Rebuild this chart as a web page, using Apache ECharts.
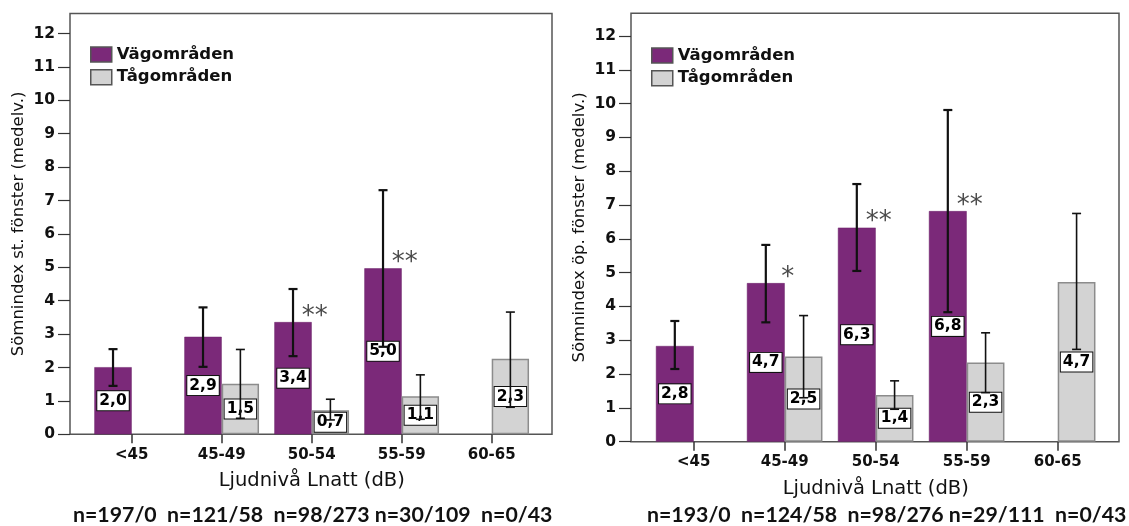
<!DOCTYPE html>
<html>
<head>
<meta charset="utf-8">
<script src="https://cdn.jsdelivr.net/npm/echarts@6/dist/echarts.min.js"></script>
<style>
html,body{margin:0;padding:0;background:#fff;}
#main{width:1129px;height:526px;}
</style>
</head>
<body>
<div id="main"></div>
<script>
// ---------- data ----------
const categories = ['<45', '45-49', '50-54', '55-59', '60-65'];
const yTicks = [0, 1, 2, 3, 4, 5, 6, 7, 8, 9, 10, 11, 12];
const seriesNames = ['Vägområden', 'Tågområden'];

// Left panel: stängt fönster
const vagSt = [2.01, 2.92, 3.36, 4.97, null];
const tagSt = [null, 1.51, 0.72, 1.14, 2.26];
const vagStErr = [[1.45, 2.55], [2.02, 3.80], [2.34, 4.35], [2.62, 7.31], null];
const tagStErr = [null, [0.48, 2.54], [0.43, 1.05], [0.45, 1.78], [0.81, 3.66]];
const sigSt = ['', '', '**', '**', ''];
const yNameSt = 'Sömnindex st. fönster (medelv.)';
const nTextSt = 'n=197/0  n=121/58  n=98/273 n=30/109  n=0/43';

// Right panel: öppet fönster
const vagOp = [2.83, 4.69, 6.33, 6.82, null];
const tagOp = [null, 2.52, 1.38, 2.34, 4.72];
const vagOpErr = [[2.15, 3.57], [3.53, 5.82], [5.05, 7.62], [3.83, 9.81], null];
const tagOpErr = [null, [1.30, 3.73], [0.96, 1.80], [1.45, 3.22], [2.73, 6.75]];
const sigOp = ['', '*', '**', '**', ''];
const yNameOp = 'Sömnindex öp. fönster (medelv.)';
const nTextOp = 'n=193/0  n=124/58  n=98/276 n=29/111  n=0/43';

const xName = 'Ljudnivå Lnatt (dB)';

// ---------- styles ----------
const PURPLE = '#7B2979';
const GRAY = '#D3D3D3';
const FONT = 'DejaVu Sans';
const BAR_FRAC = 0.415;

function fmt(v) { return v.toFixed(1).replace('.', ','); }

const chart = echarts.init(document.getElementById('main'), null, { renderer: 'canvas' });

const grids = [];
const xAxes = [];
const yAxes = [];
const series = [];
const legends = [];
const titles = [];

function addPanel(cfg) {
  const frameIdx = grids.length;
  grids.push({ left: cfg.frame.left, top: cfg.frame.top, width: cfg.frame.width, height: cfg.frame.height,
    show: true, borderColor: '#555', borderWidth: 1.5, backgroundColor: 'transparent', z: 0 });
  const mainIdx = grids.length;
  grids.push({ left: cfg.band.left, top: cfg.frame.top, width: cfg.band.width, height: cfg.frame.height });

  // hidden axes for frame grid
  xAxes.push({ gridIndex: frameIdx, type: 'value', show: false });
  yAxes.push({ gridIndex: frameIdx, type: 'value', show: false });

  const xi = xAxes.length;
  xAxes.push({
    gridIndex: mainIdx, type: 'category', data: categories, boundaryGap: true,
    axisLine: { show: false },
    axisTick: { show: true, alignWithLabel: true, length: 9, lineStyle: { color: '#333', width: 1.5 } },
    axisLabel: { margin: 13, fontFamily: FONT, fontWeight: 'bold', fontSize: 15, color: '#111' },
    name: xName, nameLocation: 'middle', nameGap: 37,
    nameTextStyle: { fontFamily: FONT, fontSize: 19.5, color: '#111' },
    splitLine: { show: false }
  });
  const yi = yAxes.length;
  yAxes.push({
    gridIndex: mainIdx, type: 'value', min: 0, max: cfg.yMax, interval: 1,
    offset: cfg.band.left - cfg.frame.left,
    axisLine: { show: false },
    axisTick: { show: true, length: 12, customValues: yTicks, lineStyle: { color: '#333', width: 1.2 } },
    axisLabel: { customValues: yTicks, margin: 15, fontFamily: FONT, fontWeight: 'bold', fontSize: 15.5, color: '#111' },
    splitLine: { show: false },
    name: cfg.yName, nameLocation: 'middle', nameGap: 43, nameRotate: 90,
    nameTextStyle: { fontFamily: FONT, fontSize: 16.5, color: '#111' }
  });

  const labelStyle = {
    show: true, position: 'inside',
    formatter: p => fmt(p.value),
    backgroundColor: '#fff', borderColor: '#111', borderWidth: 1, padding: [1, 2],
    fontFamily: FONT, fontWeight: 'bold', fontSize: 15.5, lineHeight: 17, color: '#000'
  };

  series.push({
    name: seriesNames[0], type: 'bar', xAxisIndex: xi, yAxisIndex: yi,
    data: cfg.vag.map(v => v == null ? '-' : v),
    barWidth: (BAR_FRAC * 100) + '%', barGap: '0%',
    itemStyle: { color: PURPLE, borderColor: '#6a2168', borderWidth: 0.5 },
    label: labelStyle, z: 2
  });
  series.push({
    name: seriesNames[1], type: 'bar', xAxisIndex: xi, yAxisIndex: yi,
    data: cfg.tag.map(v => v == null ? '-' : v),
    barWidth: (BAR_FRAC * 100) + '%', barGap: '0%',
    itemStyle: { color: GRAY, borderColor: '#8c8c8c', borderWidth: 1.5 },
    label: labelStyle, z: 2
  });

  // error bars
  function errSeries(errs, side, width) {
    const data = [];
    errs.forEach((e, i) => { if (e) data.push([i, e[0], e[1]]); });
    return {
      type: 'custom', xAxisIndex: xi, yAxisIndex: yi, z: 5, silent: true,
      encode: { x: 0, y: [1, 2] },
      data: data,
      renderItem: function (params, api) {
        const c = api.value(0);
        const lo = api.coord([c, api.value(1)]);
        const hi = api.coord([c, api.value(2)]);
        const bw = api.size([1, 0])[0] * BAR_FRAC;
        const x = lo[0] + side * bw / 2;
        const cap = 4.5;
        const st = { stroke: '#111', lineWidth: width };
        return {
          type: 'group',
          children: [
            { type: 'line', shape: { x1: x, y1: lo[1], x2: x, y2: hi[1] }, style: st },
            { type: 'line', shape: { x1: x - cap, y1: hi[1], x2: x + cap, y2: hi[1] }, style: st },
            { type: 'line', shape: { x1: x - cap, y1: lo[1], x2: x + cap, y2: lo[1] }, style: st }
          ]
        };
      }
    };
  }
  series.push(errSeries(cfg.vagErr, -1, 2.2));
  series.push(errSeries(cfg.tagErr, 1, 1.6));

  // significance asterisks
  series.push({
    type: 'scatter', xAxisIndex: xi, yAxisIndex: yi, z: 6, silent: true,
    symbol: 'circle', symbolSize: 2, itemStyle: { color: 'rgba(0,0,0,0)' },
    data: cfg.sig.map((s, i) => s ? cfg.vag[i] : '-'),
    label: {
      show: true, position: 'top', distance: 0, offset: [3, 9],
      formatter: p => cfg.sig[p.dataIndex],
      fontFamily: FONT, fontSize: 26, color: '#1a1a1a'
    }
  });

  legends.push({
    left: cfg.legend.left, top: cfg.legend.top, orient: 'vertical', padding: 0,
    data: seriesNames, itemWidth: 21, itemHeight: 15, itemGap: 5.7,
    icon: 'rect', selectedMode: false,
    itemStyle: { borderColor: '#555', borderWidth: 1.5 },
    textStyle: { fontFamily: FONT, fontWeight: 'bold', fontSize: 16.5, lineHeight: 15, color: '#111' }
  });

  titles.push({
    text: cfg.nText, left: cfg.nPos.left, top: cfg.nPos.top, padding: 0,
    textStyle: { fontFamily: 'Lato', fontWeight: 'bold', fontSize: 21.3, color: '#111' }
  });
}

addPanel({
  frame: { left: 70, top: 13.5, width: 482, height: 420.8 },
  band: { left: 86.7, width: 450 },
  yMax: 12.6,
  vag: vagSt, tag: tagSt, vagErr: vagStErr, tagErr: tagStErr, sig: sigSt,
  yName: yNameSt, nText: nTextSt,
  legend: { left: 90, top: 46 },
  nPos: { left: 73, top: 505 }
});
addPanel({
  frame: { left: 631, top: 13.3, width: 488, height: 428.4 },
  band: { left: 648.2, width: 455 },
  yMax: 12.67,
  vag: vagOp, tag: tagOp, vagErr: vagOpErr, tagErr: tagOpErr, sig: sigOp,
  yName: yNameOp, nText: nTextOp,
  legend: { left: 651, top: 47 },
  nPos: { left: 647, top: 505 }
});

chart.setOption({
  animation: false,
  backgroundColor: '#fff',
  title: titles,
  legend: legends,
  grid: grids,
  xAxis: xAxes,
  yAxis: yAxes,
  series: series
});
</script>
</body>
</html>
